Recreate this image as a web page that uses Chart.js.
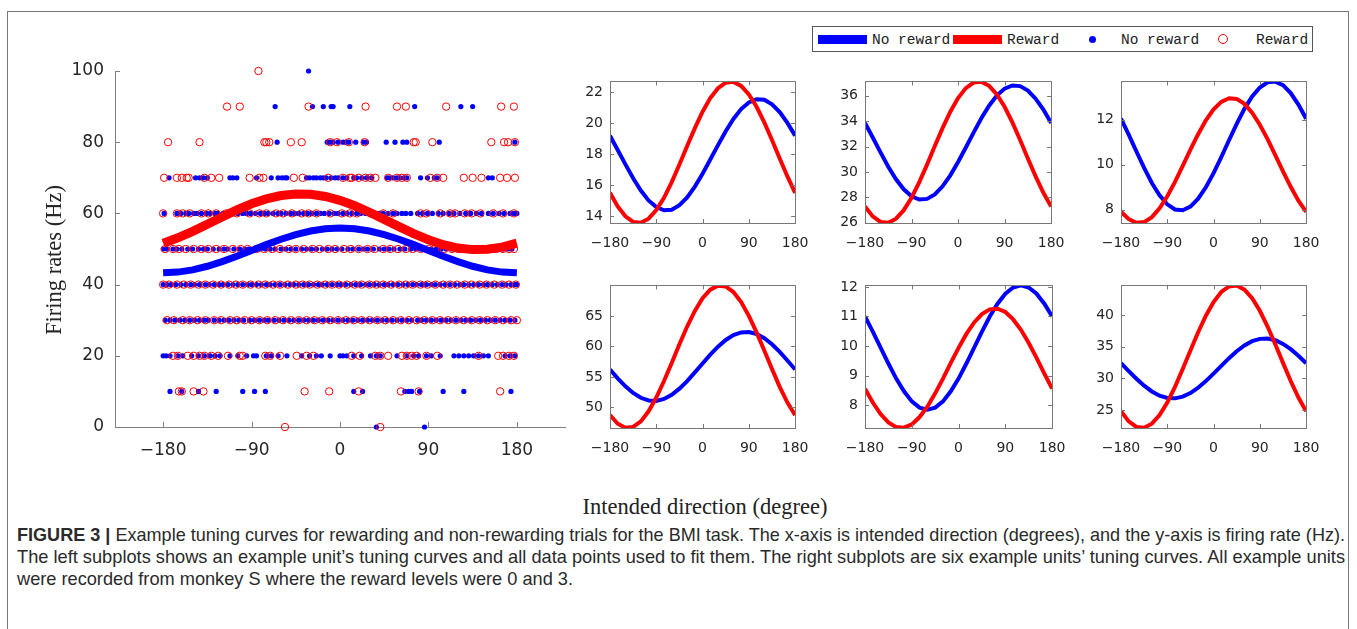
<!DOCTYPE html>
<html><head><meta charset="utf-8">
<script src="https://cdn.jsdelivr.net/npm/chart.js@4.4.1/dist/chart.umd.min.js"></script>
<style>
html,body{margin:0;padding:0;background:#fff;}
body{width:1357px;height:629px;position:relative;overflow:hidden;}
.frame{position:absolute;left:7px;top:11px;width:1342px;height:700px;border:1px solid #777;box-sizing:border-box;}
canvas{position:absolute;}
.t{position:absolute;white-space:nowrap;color:#222;}
.serif{font-family:"Liberation Serif","Times New Roman",serif;font-size:22.5px;}
.mono{font-family:"Liberation Mono","Courier New",monospace;font-size:14.5px;line-height:16px;top:32px;}
.cap{position:absolute;left:17px;white-space:nowrap;font-family:"Liberation Sans Narrow","Liberation Sans",Arial,sans-serif;font-size:18.5px;line-height:20px;color:#2a2a2a;transform-origin:0 50%;}
.legend{position:absolute;left:812px;top:26px;width:501px;height:26px;border:1px solid #555;box-sizing:border-box;background:#fff;}
.sw{position:absolute;height:9px;top:35px;width:49px;}
.dot{position:absolute;border-radius:50%;box-sizing:border-box;}
</style></head>
<body>
<div class="frame"></div>
<canvas id="main" width="600" height="470" style="left:0;top:0"></canvas>
<canvas id="p1" width="270" height="187" style="left:550px;top:66px"></canvas>
<canvas id="p2" width="271" height="187" style="left:805px;top:66px"></canvas>
<canvas id="p3" width="270" height="187" style="left:1061px;top:66px"></canvas>
<canvas id="p4" width="270" height="188" style="left:550px;top:270px"></canvas>
<canvas id="p5" width="272" height="188" style="left:805px;top:270px"></canvas>
<canvas id="p6" width="270" height="188" style="left:1061px;top:270px"></canvas>

<div class="t serif" style="left:54px;top:260px;transform:translate(-50%,-50%) rotate(-90deg);">Firing rates (Hz)</div>
<div class="t serif" style="left:705px;top:507px;transform:translate(-50%,-50%);">Intended direction (degree)</div>

<div class="legend"></div>
<div class="sw" style="left:818px;background:#0000ff;"></div>
<div class="t mono" style="left:872px;">No reward</div>
<div class="sw" style="left:953px;background:#ff0000;"></div>
<div class="t mono" style="left:1007px;">Reward</div>
<div class="dot" style="left:1088.5px;top:35.5px;width:7px;height:7px;background:#0000ff;"></div>
<div class="t mono" style="left:1121px;">No reward</div>
<div class="dot" style="left:1218px;top:34px;width:10px;height:10px;border:1.2px solid #ff0000;"></div>
<div class="t mono" style="left:1256px;">Reward</div>

<div class="cap" data-w="1328" style="top:525px;"><b>FIGURE 3 |</b> Example tuning curves for rewarding and non-rewarding trials for the BMI task. The x-axis is intended direction (degrees), and the y-axis is firing rate (Hz).</div>
<div class="cap" data-w="1328" style="top:547px;">The left subplots shows an example unit’s tuning curves and all data points used to fit them. The right subplots are six example units’ tuning curves. All example units</div>
<div class="cap" data-w="556" style="top:569px;">were recorded from monkey S where the reward levels were 0 and 3.</div>

<script>
// ---------- data ----------
const angles = [-180,-165,-150,-135,-120,-105,-90,-75,-60,-45,-30,-15,0,15,30,45,60,75,90,105,120,135,150,165,180];
const dirTicks = [-180,-90,0,90,180];
const mainYTicks = [0,20,40,60,80,100];

const mainNoRewardCurve = [43.30,43.51,44.14,45.15,46.45,47.97,49.60,51.23,52.75,54.05,55.06,55.69,55.90,55.69,55.06,54.05,52.75,51.23,49.60,47.97,46.45,45.15,44.14,43.51,43.30];
const mainRewardCurve = [51.64,53.15,54.97,56.97,59.01,60.97,62.70,64.08,65.03,65.47,65.38,64.76,63.66,62.15,60.33,58.33,56.29,54.33,52.60,51.22,50.27,49.83,49.92,50.54,51.64];

const rateLevels = [100,90,80,70,60,50,40,30,20,10,0];
const nrX100 = [-32];
const rwX100 = [-83];
const nrX90 = [-66,-28,-17,-9,-7,10,76,123,135];
const rwX90 = [-115,-102,-32,26,58,67,108,164,177];
const nrX80 = [-64,-13,-10,-7,-2,3,6,9,16,24,27,47,56,64,68,101,178];
const rwX80 = [-175,-143,-77,-75,-72,-50,-39,-10,-3,9,25,75,77,94,154,167,171,178];
const nrX70 = [-174,-147,-143,-139,-135,-112,-109,-105,-85,-70,-63,-59,-56,-54,-34,-31,-27,-24,-20,-17,-14,-9,-5,-2,3,7,14,17,22,27,32,48,51,54,58,61,65,68,82,89,96,99,151,155];
const rwX70 = [-179,-166,-161,-156,-154,-138,-131,-123,-92,-82,-78,-47,-38,-12,3,10,12,19,26,31,36,49,58,63,68,92,99,105,126,135,144,163,170,178];
const nrX60 = [-179,-166,-162,-157,-154,-149,-146,-141,-136,-132,-127,-124,-119,-113,-109,-104,-99,-95,-91,-86,-81,-77,-73,-68,-63,-60,-55,-50,-46,-42,-37,-33,-29,-24,-20,-16,-11,-6,-2,3,7,12,17,21,26,30,35,40,44,49,54,58,63,67,72,79,84,89,94,100,105,111,116,122,128,133,139,144,151,156,162,167,173,177,180];
const rwX60 = [-180,-166,-160,-153,-141,-134,-126,-116,-105,-92,-82,-75,-65,-58,-49,-39,-32,-24,-10,2,10,17,31,44,54,82,88,102,112,117,127,134,143,156,166,177];
const nrX50 = [-180,-176,-170,-166,-161,-155,-150,-144,-139,-135,-129,-123,-118,-114,-108,-102,-97,-93,-87,-81,-76,-71,-66,-60,-55,-50,-45,-39,-34,-29,-24,-18,-13,-8,-3,2,8,13,19,24,28,34,40,45,50,55,61,66,72,77,82,87,93,98,103,108,114,119,124,130,135,140,146,150,156,161,166,171,175];
const rwX50 = [-178,-170,-164,-157,-149,-141,-134,-126,-118,-109,-101,-94,-85,-77,-69,-61,-52,-45,-37,-28,-21,-12,-5,4,11,19,28,35,44,51,59,67,74,82,90,97,106,114,121,129,136,145,152,159,166,172,177];
const nrX40 = [-180,-176,-172,-167,-162,-157,-152,-148,-143,-137,-133,-128,-123,-119,-114,-109,-104,-99,-94,-90,-85,-80,-75,-71,-66,-61,-56,-51,-47,-42,-37,-32,-27,-22,-18,-13,-8,-3,1,6,11,16,21,26,30,35,40,45,49,54,59,64,69,74,78,83,88,93,97,102,107,112,117,122,126,131,136,141,146,150,155,160,165,169,174,178,180];
const rwX40 = [-180,-174,-166,-159,-152,-144,-137,-129,-121,-113,-106,-99,-91,-83,-76,-68,-61,-53,-45,-38,-31,-23,-15,-8,-1,7,15,22,30,37,44,52,60,67,74,82,89,97,105,112,119,127,134,142,149,157,165,172,179];
const nrX30 = [-178,-173,-168,-163,-158,-153,-148,-143,-138,-134,-128,-123,-118,-113,-108,-103,-98,-92,-87,-82,-77,-73,-67,-62,-57,-52,-47,-42,-37,-32,-27,-22,-17,-12,-7,-2,3,8,13,18,23,28,33,38,43,48,53,58,63,68,73,79,83,88,93,98,103,108,113,118,123,128,133,138,143,148,153,158,163,168,173,178];
const rwX30 = [-176,-169,-160,-153,-145,-137,-128,-121,-112,-105,-97,-90,-82,-74,-66,-58,-50,-42,-34,-26,-18,-10,-2,6,14,22,30,38,46,54,62,70,78,86,94,102,110,118,126,134,142,150,158,166,174,180];
const nrX20 = [-180,-177,-173,-165,-160,-151,-144,-138,-132,-127,-122,-112,-104,-95,-88,-85,-75,-70,-63,-54,-39,-31,-24,-19,-10,0,3,7,14,22,31,37,41,58,68,75,80,88,93,102,116,121,126,131,136,141,146,151,168,173,178];
const rwX20 = [-170,-165,-155,-149,-143,-138,-131,-124,-114,-102,-99,-76,-71,-61,-44,-34,-27,12,20,36,41,49,63,68,73,78,88,99,141,161,166,172,177];
const nrX10 = [-173,-161,-144,-126,-99,-87,-76,14,23,66,70,73,81,105,126,174];
const rwX10 = [-164,-161,-149,-139,-36,-11,19,62,80,163];
const nrX0 = [37,86];
const rwX0 = [-56,41];

const p1Range = [13.55,22.7], p1Ticks = [14,16,18,20,22];
const p1NoReward = [19.19,18.27,17.34,16.44,15.65,15.01,14.58,14.37,14.41,14.70,15.20,15.90,16.73,17.65,18.58,19.48,20.27,20.91,21.34,21.55,21.51,21.22,20.72,20.02,19.19];
const p1Reward = [15.50,14.62,13.98,13.62,13.57,13.83,14.38,15.18,16.19,17.33,18.52,19.68,20.74,21.62,22.26,22.62,22.67,22.41,21.86,21.06,20.05,18.91,17.72,16.56,15.50];

const p2Range = [25.98,37.13], p2Ticks = [26,28,30,32,34,36];
const p2NoReward = [33.86,32.71,31.54,30.41,29.42,28.63,28.08,27.83,27.88,28.23,28.87,29.73,30.78,31.93,33.10,34.23,35.22,36.01,36.56,36.81,36.76,36.41,35.77,34.91,33.86];
const p2Reward = [27.28,26.50,26.06,26.00,26.32,26.99,27.97,29.20,30.58,32.04,33.45,34.74,35.82,36.60,37.04,37.10,36.78,36.11,35.13,33.90,32.52,31.06,29.65,28.36,27.28];

const p3Range = [7.41,13.71], p3Ticks = [8,10,12];
const p3NoReward = [12.05,11.34,10.59,9.86,9.19,8.64,8.24,8.01,7.98,8.14,8.49,9.00,9.63,10.34,11.09,11.82,12.49,13.04,13.44,13.67,13.70,13.54,13.19,12.68,12.05];
const p3Reward = [7.91,7.58,7.42,7.45,7.67,8.06,8.60,9.24,9.95,10.67,11.36,11.98,12.47,12.80,12.96,12.93,12.71,12.32,11.78,11.14,10.43,9.71,9.02,8.40,7.91];

const p4Range = [46.64,70.0], p4Ticks = [50,55,60,65];
const p4NoReward = [56.23,54.78,53.47,52.38,51.59,51.15,51.08,51.40,52.08,53.08,54.33,55.74,57.21,58.66,59.97,61.06,61.85,62.29,62.36,62.04,61.36,60.36,59.11,57.70,56.23];
const p4Reward = [48.75,47.34,46.68,46.82,47.73,49.37,51.62,54.33,57.30,60.35,63.26,65.83,67.89,69.30,69.96,69.82,68.91,67.27,65.02,62.31,59.34,56.29,53.38,50.81,48.75];

const p5Range = [7.23,12.05], p5Ticks = [8,9,10,11,12];
const p5NoReward = [11.00,10.49,9.95,9.41,8.90,8.47,8.13,7.92,7.85,7.92,8.13,8.47,8.90,9.41,9.95,10.49,11.00,11.43,11.77,11.98,12.05,11.98,11.77,11.43,11.00];
const p5Reward = [8.56,8.09,7.70,7.42,7.26,7.24,7.35,7.60,7.95,8.40,8.90,9.43,9.94,10.41,10.80,11.08,11.24,11.26,11.15,10.90,10.55,10.10,9.60,9.07,8.56];

const p6Range = [22.16,44.67], p6Ticks = [25,30,35,40];
const p6NoReward = [32.38,31.15,29.94,28.84,27.93,27.26,26.89,26.84,27.11,27.68,28.51,29.56,30.74,31.97,33.18,34.28,35.19,35.86,36.23,36.28,36.01,35.44,34.61,33.56,32.38];
const p6Reward = [24.79,23.21,22.33,22.20,22.84,24.20,26.18,28.66,31.47,34.40,37.27,39.88,42.05,43.63,44.51,44.64,44.00,42.64,40.66,38.18,35.37,32.44,29.57,26.96,24.79];

// ---------- helpers ----------
const noRewardLevels = [nrX100,nrX90,nrX80,nrX70,nrX60,nrX50,nrX40,nrX30,nrX20,nrX10,nrX0];
const rewardLevels = [rwX100,rwX90,rwX80,rwX70,rwX60,rwX50,rwX40,rwX30,rwX20,rwX10,rwX0];
const toPts = lists => rateLevels.flatMap((lv,i) => lists[i].map(x => ({x:x, y:lv})));
const curvePts = vals => angles.map((a,i) => ({x:a, y:vals[i]}));
const tickCb = v => v < 0 ? '\u2212' + Math.abs(v) : String(v);

const frameTicks = {
  id: 'frameTicks',
  afterDatasetsDraw(chart, args, o) {
    const {ctx, chartArea: a} = chart;
    const xs = chart.scales.x, ys = chart.scales.y;
    const L = o.len;
    ctx.save();
    ctx.strokeStyle = o.color; ctx.lineWidth = 1;
    ctx.beginPath();
    xs.ticks.forEach(t => {
      const px = Math.round(xs.getPixelForValue(t.value)) + 0.5;
      ctx.moveTo(px, a.bottom); ctx.lineTo(px, a.bottom - L);
      if (o.box) { ctx.moveTo(px, a.top); ctx.lineTo(px, a.top + L); }
    });
    ys.ticks.forEach(t => {
      const py = Math.round(ys.getPixelForValue(t.value)) + 0.5;
      ctx.moveTo(a.left, py); ctx.lineTo(a.left + L, py);
      if (o.box) { ctx.moveTo(a.right, py); ctx.lineTo(a.right - L, py); }
    });
    if (o.box) ctx.rect(Math.round(a.left) + 0.5, Math.round(a.top) + 0.5, Math.round(a.right - a.left), Math.round(a.bottom - a.top));
    ctx.stroke();
    ctx.restore();
  }
};

function axes(xMin, xMax, yMin, yMax, yTicks, fontSize, xPad, yPad, yW, xH, col) {
  const font = {family: 'DejaVu Sans', size: fontSize};
  return {
    x: {type: 'linear', min: xMin, max: xMax,
        afterBuildTicks: s => { s.ticks = dirTicks.map(v => ({value: v})); },
        afterFit: s => { s.height = xH; },
        grid: {display: false, drawTicks: false}, border: {color: col, width: 1},
        ticks: {callback: tickCb, font: font, color: '#262626', padding: xPad, maxRotation: 0, autoSkip: false}},
    y: {type: 'linear', min: yMin, max: yMax,
        afterBuildTicks: s => { s.ticks = yTicks.map(v => ({value: v})); },
        afterFit: s => { s.width = yW; },
        grid: {display: false, drawTicks: false}, border: {color: col, width: 1},
        ticks: {callback: tickCb, font: font, color: '#262626', padding: yPad}}
  };
}

// ---------- main chart ----------
new Chart(document.getElementById('main'), {
  type: 'scatter',
  data: {datasets: [
    {data: toPts(noRewardLevels), pointRadius: 2.6, pointBackgroundColor: '#0000ff', pointBorderWidth: 0, pointBorderColor: '#0000ff', clip: false, order: 4},
    {data: toPts(rewardLevels), pointRadius: 3.7, pointBackgroundColor: 'rgba(0,0,0,0)', pointBorderColor: '#ff0000', pointBorderWidth: 1, clip: false, order: 3},
    {data: curvePts(mainNoRewardCurve), showLine: true, borderColor: '#0000ff', borderWidth: 7, pointRadius: 0, tension: 0, order: 2},
    {data: curvePts(mainRewardCurve), showLine: true, borderColor: '#ff0000', borderWidth: 9, pointRadius: 0, tension: 0, order: 1}
  ]},
  options: {
    responsive: false, animation: false, devicePixelRatio: 1,
    layout: {padding: {left: 0, right: 35, top: 71, bottom: 0}},
    plugins: {legend: {display: false}, tooltip: {enabled: false}, frameTicks: {box: false, len: 5, color: '#808080'}},
    scales: axes(-229, 229, 0, 100, mainYTicks, 17, 13, 11, 115, 43, '#808080')
  },
  plugins: [frameTicks]
});

// ---------- small charts ----------
function smallChart(id, range, yTicks, blue, red) {
  new Chart(document.getElementById(id), {
    type: 'scatter',
    data: {datasets: [
      {data: curvePts(blue), showLine: true, borderColor: '#0000ff', borderWidth: 4, pointRadius: 0, tension: 0, order: 2},
      {data: curvePts(red), showLine: true, borderColor: '#ff0000', borderWidth: 4, pointRadius: 0, tension: 0, order: 1}
    ]},
    options: {
      responsive: false, animation: false, devicePixelRatio: 1,
      layout: {padding: {left: 0, right: 20, top: 10, bottom: 0}},
      plugins: {legend: {display: false}, tooltip: {enabled: false}, frameTicks: {box: true, len: 4, color: '#777777'}},
      scales: axes(-180, 180, range[0], range[1], yTicks, 14, 11.5, 7, 60, 30, '#777777')
    },
    plugins: [frameTicks]
  });
}
smallChart('p1', p1Range, p1Ticks, p1NoReward, p1Reward);
smallChart('p2', p2Range, p2Ticks, p2NoReward, p2Reward);
smallChart('p3', p3Range, p3Ticks, p3NoReward, p3Reward);
smallChart('p4', p4Range, p4Ticks, p4NoReward, p4Reward);
smallChart('p5', p5Range, p5Ticks, p5NoReward, p5Reward);
smallChart('p6', p6Range, p6Ticks, p6NoReward, p6Reward);

// caption width fitting
document.querySelectorAll('.cap').forEach(el => {
  const w = el.getBoundingClientRect().width;
  el.style.transform = 'scaleX(' + (Number(el.dataset.w) / w) + ')';
});
</script>
</body></html>
